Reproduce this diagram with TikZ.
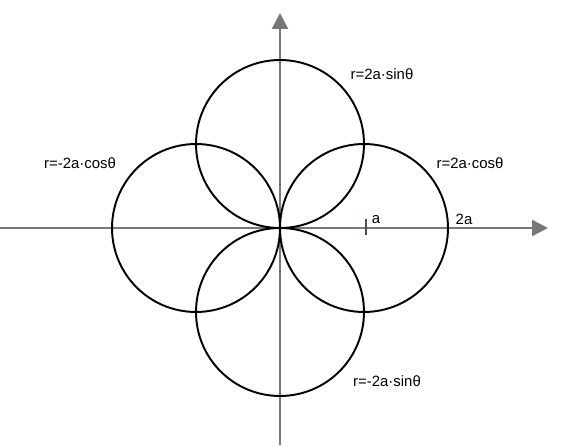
\documentclass[tikz,border=0pt]{standalone}
\usepackage{fontspec}
\setmainfont{Liberation Sans}
\usetikzlibrary{arrows.meta,positioning}
\definecolor{axisgray}{RGB}{120,120,120}
\definecolor{tickblue}{RGB}{60,80,110}

\begin{document}
\begin{tikzpicture}[
    x=0.02cm, y=0.02cm,
    axis/.style={draw=axisgray, line width=1.4pt, -{Triangle[length=9pt, width=9pt]}},
    loop/.style={draw, circle, line width=1.1pt, minimum size=3.36cm, inner sep=0pt},
    lbl/.style={font=\fontsize{8.5}{10}\selectfont, inner sep=0pt}
]
    \useasboundingbox (-280,-218) rectangle (283,228);

    \coordinate (O) at (0,0);
    \coordinate (xs) at (-280,0);
    \coordinate (xe) at (268,0);
    \coordinate (ys) at (0,-217);
    \coordinate (ye) at (0,215);

    \draw[axis] (xs) -- (xe);
    \draw[axis] (ys) -- (ye);

    \node[loop] (right) at (84,0) {};
    \node[loop] (left) at (-84,0) {};
    \node[loop] (top) at (0,84) {};
    \node[loop] (bottom) at (0,-84) {};

    \coordinate (ta) at (86,9);
    \coordinate (tb) at (86,-7);
    \draw[tickblue, line width=0.8pt] (ta) -- (tb);

    \node[lbl] (a) at (96,8) {a};
    \node[lbl] (twoa) at (184,9) {2a};

    \node[lbl] (sinp) at (102,154) {r=2a·sinθ};
    \node[lbl] (cosn) at (-200,65) {r=-2a·cosθ};
    \node[lbl] (cosp) at (190,65) {r=2a·cosθ};
    \node[lbl] (sinn) at (107,-153) {r=-2a·sinθ};
\end{tikzpicture}
\end{document}
